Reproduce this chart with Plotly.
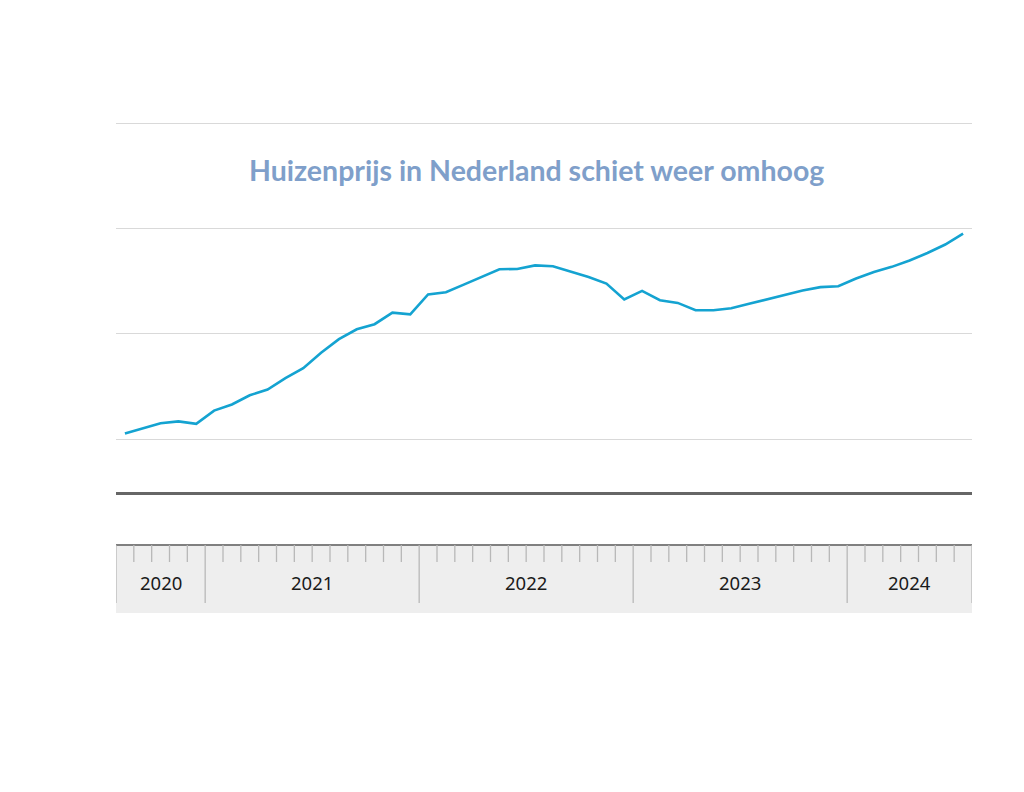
import plotly.graph_objects as go

# ---- data -------------------------------------------------------------
years = [2020, 2021, 2022, 2023, 2024]
year_first_month = [8, 1, 1, 1, 1]
year_last_month = [12, 12, 12, 12, 7]
month_names = ["jan", "feb", "mrt", "apr", "mei", "jun", "jul", "aug", "sep", "okt", "nov", "dec"]

months = []
for yr, m0, m1 in zip(years, year_first_month, year_last_month):
    for m in range(m0, m1 + 1):
        months.append(f"{month_names[m - 1]} {yr}")

# average house price (thousand euro)
prices = [
    352.8, 355.2, 357.6, 358.5, 357.3,                                  # 2020 aug-dec
    363.6, 366.5, 370.9, 373.6, 379.0, 383.7, 391.1, 397.5, 402.2, 404.6, 410.1, 409.3,  # 2021
    418.7, 419.8, 423.4, 426.9, 430.7, 430.8, 432.5, 432.1, 429.4, 427.0, 423.9, 416.3,  # 2022
    420.4, 416.0, 414.7, 411.2, 411.2, 412.2, 414.3, 416.5, 418.4, 420.6, 422.2, 422.6,  # 2023
    426.3, 429.4, 431.8, 434.8, 438.4, 442.4, 447.6,                    # 2024 jan-jul
]

y_grid = [350, 400, 450, 500]
y_range = [325, 501]
title_text = "Huizenprijs in Nederland schiet weer omhoog"

# ---- figure -----------------------------------------------------------
fig = go.Figure()
fig.add_trace(go.Scatter(
    x=months, y=prices, mode="lines",
    line=dict(color="#14A3D1", width=2.6),
    hoverinfo="x+y", showlegend=False,
))

n = len(months)
ph = 371.0  # plot height in px

# axis band (grey strip with month ticks and year labels)
band_top, band_bottom = -53 / ph, -121 / ph
minor_bottom, major_bottom = -70 / ph, -111 / ph
shapes = [
    dict(type="rect", xref="x", yref="paper", x0=-0.5, x1=n - 0.5,
         y0=band_bottom, y1=band_top, fillcolor="#EEEEEE", line=dict(width=0), layer="below"),
    dict(type="line", xref="x", yref="paper", x0=-0.5, x1=n - 0.5,
         y0=band_top, y1=band_top, line=dict(color="#808080", width=2)),
]

boundaries = [-0.5]
idx = 0
for m0, m1 in zip(year_first_month, year_last_month):
    idx += m1 - m0 + 1
    boundaries.append(idx - 0.5)

for k in range(n + 1):
    xpos = k - 0.5
    is_major = any(abs(xpos - b) < 1e-9 for b in boundaries)
    shapes.append(dict(
        type="line", xref="x", yref="paper", x0=xpos, x1=xpos,
        y0=band_top, y1=major_bottom if is_major else minor_bottom,
        line=dict(color="#B8B8B8", width=1.3),
    ))

annotations = []
for yr, b0, b1 in zip(years, boundaries[:-1], boundaries[1:]):
    annotations.append(dict(
        x=(b0 + b1) / 2, y=-90 / ph, xref="x", yref="paper",
        text=str(yr), showarrow=False,
        font=dict(family="Noto Sans", size=18.5, color="#1a1a1a"),
        xanchor="center", yanchor="middle",
    ))

annotations.append(dict(
    x=0.4918, y=322 / ph, xref="paper", yref="paper", text=f"<b>{title_text}</b>",
    showarrow=False, xanchor="center", yanchor="middle",
    font=dict(family="Lato", size=28.5, color="#7F9FCA"),
))

fig.update_layout(
    width=1024, height=792, autosize=False,
    margin=dict(l=116, r=52, t=121, b=300),
    paper_bgcolor="white", plot_bgcolor="white",
    shapes=shapes, annotations=annotations,
    xaxis=dict(
        type="category", range=[-0.5, n - 0.5], showgrid=False,
        showticklabels=False, ticks="", showline=True,
        linecolor="#666666", linewidth=3, zeroline=False, fixedrange=True,
    ),
    yaxis=dict(
        range=y_range, tickvals=y_grid, showticklabels=False, ticks="",
        showgrid=True, gridcolor="#D9D9D9", gridwidth=1, zeroline=False,
        showline=False, fixedrange=True,
    ),
)

fig.write_html("out.html")
